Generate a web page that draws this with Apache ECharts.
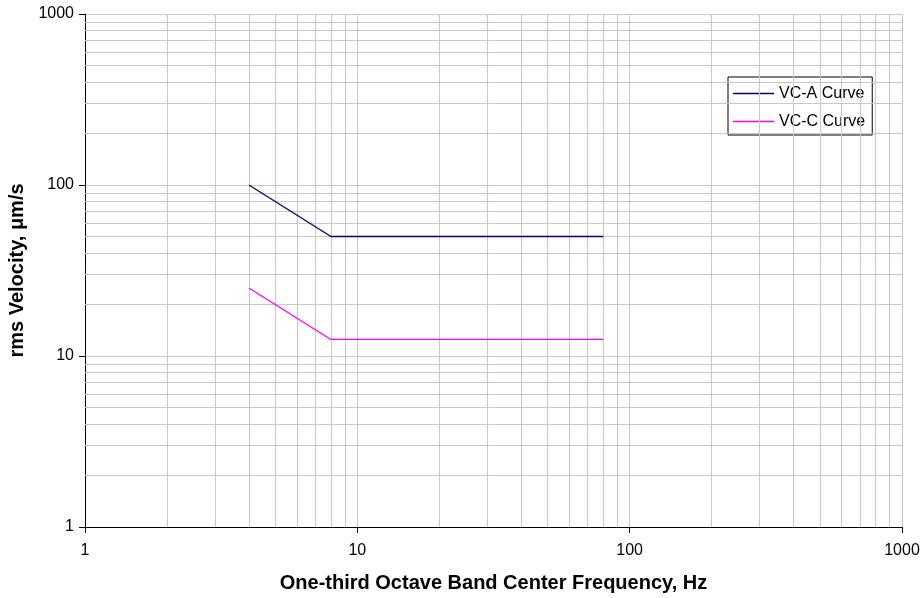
<!DOCTYPE html>
<html>
<head>
<meta charset="utf-8">
<script src="https://cdn.jsdelivr.net/npm/echarts@6/dist/echarts.min.js"></script>
<style>
  html, body { margin: 0; padding: 0; background: #fff; }
  #chart { width: 921px; height: 598px; }
</style>
</head>
<body>
<div id="chart"></div>
<script>
// data
var freqs = [4, 8, 80];
var vcA = [100, 50, 50];
var vcC = [25, 12.5, 12.5];
var seriesNames = ['VC-A Curve', 'VC-C Curve'];

// minor gridline positions (2..9 of each decade)
var minorX = [2,3,4,5,6,7,8,9,20,30,40,50,60,70,80,90,200,300,400,500,600,700,800,900];
var minorY = minorX.slice();

var chart = echarts.init(document.getElementById('chart'));

function pairs(xs, ys) {
    return xs.map(function(x, i) { return [x, ys[i]]; });
}

var gridColor = '#c8c8c8';

var option = {
    animation: false,
    textStyle: { fontFamily: 'Liberation Sans, Arial, sans-serif' },
    grid: { left: 85, right: 19, top: 14, bottom: 71, outerBoundsMode: 'none', containLabel: false },
    legend: {
        orient: 'vertical',
        left: 728,
        top: 77,
        data: seriesNames,
        icon: 'rect',
        itemWidth: 41,
        itemHeight: 1.5,
        itemGap: 11,
        padding: [8, 7, 5, 5],
        backgroundColor: '#fff',
        borderColor: '#000',
        borderWidth: 1,
        textStyle: { color: '#000', fontSize: 16, lineHeight: 17 }
    },
    xAxis: {
        type: 'log',
        logBase: 10,
        min: 1,
        max: 1000,
        name: 'One-third Octave Band Center Frequency, Hz',
        nameLocation: 'middle',
        nameGap: 46,
        nameTextStyle: { fontWeight: 'bold', fontSize: 20, color: '#000' },
        axisLine: { lineStyle: { color: '#000', width: 1 } },
        axisTick: { show: true, length: 6, lineStyle: { color: '#000' } },
        minorTick: { show: false },
        axisLabel: {
            color: '#000', fontSize: 16, margin: 16,
            formatter: function(v) { return String(v); }
        },
        splitLine: { show: true, lineStyle: { color: gridColor, width: 1 } }
    },
    yAxis: {
        type: 'log',
        logBase: 10,
        min: 1,
        max: 1000,
        name: 'rms Velocity, μm/s',
        nameLocation: 'middle',
        nameGap: 56,
        nameTextStyle: { fontWeight: 'bold', fontSize: 20, color: '#000' },
        axisLine: { lineStyle: { color: '#000', width: 1 } },
        axisTick: { show: true, length: 6, lineStyle: { color: '#000' } },
        minorTick: { show: false },
        axisLabel: {
            color: '#000', fontSize: 16, margin: 11,
            formatter: function(v) { return String(v); }
        },
        splitLine: { show: true, lineStyle: { color: gridColor, width: 1 } }
    },
    series: [
        {
            // minor gridlines only
            type: 'line',
            data: [],
            silent: true,
            markLine: {
                silent: true,
                symbol: 'none',
                label: { show: false },
                lineStyle: { color: gridColor, type: 'solid', width: 1 },
                data: minorX.map(function(v) { return { xAxis: v }; })
                    .concat(minorY.map(function(v) { return { yAxis: v }; }))
            }
        },
        {
            name: seriesNames[0],
            type: 'line',
            symbol: 'none',
            data: pairs(freqs, vcA),
            lineStyle: { color: '#000080', width: 1.3 },
            itemStyle: { color: '#000080' },
            z: 5
        },
        {
            name: seriesNames[1],
            type: 'line',
            symbol: 'none',
            data: pairs(freqs, vcC),
            lineStyle: { color: '#ff00ff', width: 1.3 },
            itemStyle: { color: '#ff00ff' },
            z: 5
        }
    ]
};

chart.setOption(option);
</script>
</body>
</html>
